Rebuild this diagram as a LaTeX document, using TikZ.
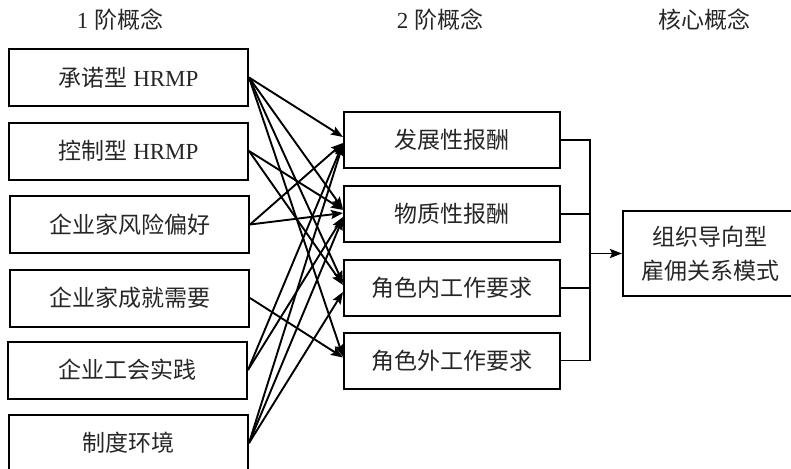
\documentclass[tikz,border=0pt]{standalone}
\usepackage{fontspec}
\setmainfont{Liberation Serif}
\newfontfamily\cjk{Noto Sans CJK SC}
\usetikzlibrary{arrows.meta}
\begin{document}
\begin{tikzpicture}[x=1pt,y=-1pt,
  txt/.style={font=\fontsize{23}{34}\selectfont, text=black!85},
  lbox/.style={draw, line width=2pt, minimum width=239pt, minimum height=57pt, inner sep=0pt, txt},
  mbox/.style={draw, line width=2pt, minimum width=216pt, minimum height=56pt, inner sep=0pt, txt},
  rbox/.style={draw, line width=2pt, minimum width=174pt, minimum height=85pt, inner sep=0pt, txt, align=center},
  head/.style={txt},
  conn/.style={line width=1.9pt, -{Stealth[length=12pt,width=9pt,inset=2pt]}},
  link/.style={line width=1.9pt}
]
\useasboundingbox (0,0) rectangle (791,468);
\clip (0,0) rectangle (791,468);

\node[head] (h1) at (120,20) {1 {\cjk 阶概念}};
\node[head] (h2) at (440,20) {2 {\cjk 阶概念}};
\node[head] (h3) at (704,20) {\cjk 核心概念};

\node[lbox] (L1) at (128.5,77.5) {{\cjk 承诺型} HRMP};
\node[lbox] (L2) at (128.5,151) {{\cjk 控制型} HRMP};
\node[lbox] (L3) at (129.5,224.5) {\cjk 企业家风险偏好};
\node[lbox] (L4) at (129.5,298) {\cjk 企业家成就需要};
\node[lbox] (L5) at (127.5,370) {\cjk 企业工会实践};
\node[lbox] (L6) at (128.5,443) {\cjk 制度环境};

\node[mbox] (M1) at (452,140) {\cjk 发展性报酬};
\node[mbox] (M2) at (452,214) {\cjk 物质性报酬};
\node[mbox] (M3) at (452,288) {\cjk 角色内工作要求};
\node[mbox] (M4) at (452,360.5) {\cjk 角色外工作要求};

\node[rbox] (R) at (710,253.5) {\cjk 组织导向型\\\cjk 雇佣关系模式};

\coordinate (J) at (590,253.5);

% first-order to second-order
\draw[conn] (L1.east) -- ([yshift=3pt]M1.west);
\draw[conn] (L1.east) -- ([yshift=5pt]M2.west);
\draw[conn] (L1.east) -- ([yshift=5pt]M3.west);
\draw[conn] (L1.east) -- ([yshift=4pt]M4.west);
\draw[conn] (L2.east) -- ([yshift=4pt]M2.west);
\draw[conn] (L2.east) -- ([yshift=3pt]M3.west);
\draw[conn] (L3.east) -- ([yshift=-3pt]M1.west);
\draw[conn] (L3.east) -- ([yshift=1pt]M2.west);
\draw[conn] (L4.east) -- ([yshift=3pt]M4.west);
\draw[conn] (L5.east) -- ([yshift=-3pt]M1.west);
\draw[conn] (L5.east) -- ([yshift=-3pt]M2.west);
\draw[conn] (L6.east) -- ([yshift=-4pt]M1.west);
\draw[conn] (L6.east) -- ([yshift=-4pt]M2.west);
\draw[conn] (L6.east) -- ([yshift=-4pt]M3.west);

% second-order to core
\draw[link] (M1.east) -| (J) |- (M4.east);
\draw[link] (M2.east) -| (J);
\draw[link] (M3.east) -| (J);
\draw[conn] (J) -- (R.west);
\end{tikzpicture}
\end{document}
